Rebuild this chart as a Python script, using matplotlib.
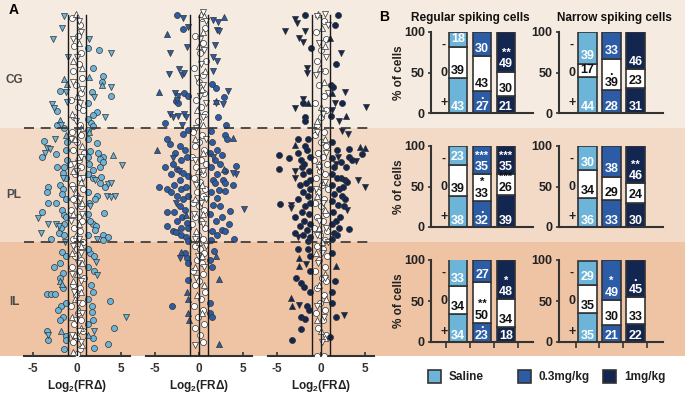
import matplotlib
matplotlib.use('Agg')
import matplotlib.pyplot as plt
from matplotlib.patches import Rectangle

plt.rcParams['font.family'] = ['Liberation Sans', 'DejaVu Sans']
plt.rcParams['font.weight'] = 'bold'
plt.rcParams['axes.titleweight'] = 'bold'
plt.rcParams['axes.labelweight'] = 'bold'

W, H = 685, 395

# ---- data -------------------------------------------------------------
regions = ['CG', 'PL', 'IL']
region_bounds = [0, 36, 68, 100]          # depth (% of scatter height)
doses = ['Saline', '0.3mg/kg', '1mg/kg']
dose_colors = ['#6db4d9', '#2d5ca6', '#13264f']
band_colors = ['#f6ebe1', '#f3dac7', '#eec4a5']

# scatter: (log2 FR change, depth)
sal_o = [(1.29, 13.6), (2.5, 14), (1.78, 19.2), (3.0, 21.3), (2.8, 22.9), (-1.93, 25.6), (1.67, 25.9),
         (3.83, 26.9), (1.29, 28.8), (-2.24, 31.2), (2.3, 31.5), (1.85, 32.3), (1.3, 33.5), (1.6, 34.5),
         (1.8, 35.5), (1.2, 36.5), (-2.3, 35), (-1.5, 36), (-3.75, 39.6), (-1.17, 40), (-4.0, 44),
         (-2.4, 43.3), (2.24, 40.3), (1.48, 42.4), (2.4, 43), (3.0, 44), (2.6, 44.7), (3.0, 45.4),
         (-2.3, 46.8), (-1.17, 45), (2.6, 46.8), (1.85, 47.8), (-1.5, 47), (-1.6, 48.5), (2.73, 49.6),
         (1.85, 50), (1.3, 39), (1.2, 44), (1.4, 46), (-1.3, 42), (-1.2, 50), (1.2, 49), (-3.26, 52.4),
         (-3.44, 53.8), (-1.9, 52), (-1.6, 53), (-1.7, 54.5), (2.6, 51.5), (3.2, 52.5), (2.3, 55),
         (2.0, 56), (-3.26, 57), (-2.4, 57), (-4.0, 59.6), (-1.7, 59), (-1.5, 60.5), (3.1, 59.7),
         (-1.5, 63), (-1.8, 64), (-2.0, 65.5), (-1.5, 66), (1.8, 63), (2.2, 63.5), (2.0, 64.5),
         (3.0, 66), (3.5, 66.5), (3.0, 67.3), (-2.9, 67.2), (1.3, 54), (1.4, 57), (1.2, 60), (1.5, 62),
         (-1.3, 56), (-1.2, 61), (1.3, 66), (-1.74, 70.7), (-1.93, 73.8), (-2.6, 75), (-1.55, 76.7),
         (1.5, 71), (1.9, 72), (1.93, 76), (-1.9, 78), (1.6, 80), (1.8, 82), (-3.4, 82.6), (-2.9, 82.6),
         (-2.5, 82.6), (-1.6, 81), (3.7, 84.5), (-1.85, 86), (-2.2, 87), (1.7, 86), (1.7, 87.5),
         (-1.6, 89), (-1.95, 90), (1.77, 90), (4.2, 92.2), (-3.44, 93), (-3.3, 95.5), (-1.3, 94.5),
         (-1.3, 95.5), (1.8, 95), (3.56, 96.7), (-1.5, 98), (1.9, 97.8), (1.2, 70), (1.3, 75),
         (-1.2, 72), (-1.3, 85), (1.2, 84), (1.3, 91)]
sal_up = [(1.36, 21.5), (-1.5, 22.2), (2.88, 23.9), (-1.17, 23.7), (-1.93, 33.7), (4.1, 43.5), (-1.9, 79),
          (-1.7, 79.8), (-1.8, 93), (1.4, 37), (-1.3, 38), (1.3, 94)]
sal_dn = [(-1.48, 4.4), (-1.74, 7.8), (-2.77, 11), (1.36, 11), (3.83, 14.8), (-1.06, 15.9), (3.83, 24.3),
          (-1.2, 25.8), (1.97, 27.3), (-1.17, 28.7), (-2.88, 29.3), (-2.6, 30.4), (3.18, 32.8),
          (-1.8, 35.2), (-2.5, 39.1), (-3.4, 41.5), (-3.07, 41.9), (-3.6, 43), (5.15, 46.4), (2.0, 50.5),
          (-1.6, 50), (3.5, 51.7), (3.9, 51.5), (3.4, 55), (3.9, 55.2), (4.3, 55), (-4.4, 61.3),
          (-3.26, 63), (-2.4, 63), (-2.0, 63.5), (-4.1, 65.4), (2.3, 67), (2.16, 73.5), (2.3, 77.2),
          (5.57, 89.1), (1.93, 93), (-3.3, 94), (1.5, 58), (-1.4, 68)]
sal_w_o = [(-0.6, 5), (0.3, 7), (0.1, 10), (-0.3, 13), (0.5, 15), (0.2, 18), (-0.5, 20), (0.6, 22),
           (-0.1, 24), (0.4, 26), (-0.7, 28), (0.1, 30), (0.7, 31), (-0.3, 33), (0.3, 35), (-0.6, 37),
           (0.5, 38), (0.0, 40), (-0.4, 42), (0.8, 43), (0.2, 45), (-0.8, 46), (0.5, 47), (-0.2, 49),
           (0.3, 50), (-0.6, 52), (0.7, 53), (0.0, 55), (-0.4, 56), (0.4, 58), (-0.7, 59), (0.1, 61),
           (0.6, 62), (-0.3, 64), (0.3, 65), (-0.5, 67), (0.7, 68), (0.0, 70), (-0.2, 72), (0.5, 73),
           (-0.6, 75), (0.2, 76), (0.8, 78), (-0.4, 80), (0.3, 81), (-0.1, 83), (0.6, 85), (-0.7, 86),
           (0.1, 88), (0.4, 90), (-0.3, 91), (0.7, 93), (0.0, 95), (-0.5, 96), (0.3, 98), (0.0, 99.5)]
sal_w_up = [(-0.1, 4), (0.2, 12), (-0.5, 17), (0.6, 19), (0.0, 27), (-0.6, 32), (0.4, 36), (-0.2, 39),
            (0.6, 41), (0.1, 44), (-0.5, 48), (0.4, 51), (-0.1, 54), (0.6, 57), (-0.5, 60), (0.2, 63),
            (-0.1, 66), (0.4, 69), (-0.6, 71), (0.6, 74), (0.0, 77), (-0.5, 79), (0.5, 82), (-0.2, 84),
            (0.2, 87), (-0.6, 89), (0.5, 92), (-0.2, 94), (0.6, 97), (-0.4, 99)]
sal_w_dn = [(0.2, 6), (0.5, 9), (-0.4, 11), (0.0, 16), (0.6, 25), (-0.4, 23), (0.3, 29), (-0.1, 34),
            (0.1, 37), (-0.7, 39), (0.5, 44), (-0.3, 46), (0.0, 48), (0.7, 50), (-0.4, 53), (0.3, 56),
            (-0.1, 58), (0.6, 60), (-0.7, 62), (0.2, 67), (-0.4, 69), (0.5, 71), (0.1, 74), (-0.6, 77),
            (0.4, 79), (-0.3, 82), (0.1, 85), (0.6, 88), (-0.1, 90), (0.2, 93), (-0.6, 94), (0.4, 96)]

low_o = [(-2.46, 4.2), (-1.85, 8.1), (1.5, 23.5), (1.9, 24.7), (2.84, 27.2), (-1.7, 26), (-1.3, 27),
         (-2.6, 28.5), (-2.4, 29), (-3.86, 34.6), (2.2, 33), (3.1, 35), (-3.6, 39), (-3.3, 40.5),
         (2.9, 38), (3.2, 39), (4.2, 46.5), (-3.9, 47), (-2.2, 41), (-1.6, 42), (-2.7, 43), (-1.4, 44),
         (-2.0, 45), (-3.0, 46), (-2.5, 47.5), (-1.8, 48.5), (-1.3, 49.5), (-2.2, 50.5), (-3.2, 49),
         (1.5, 40), (2.0, 42), (1.3, 43), (2.6, 43.5), (1.8, 45), (2.4, 46), (1.4, 47), (3.0, 48),
         (2.1, 49), (1.6, 50.5), (2.7, 50.5), (-4.5, 52.6), (-3.6, 53), (-3.2, 54), (-2.8, 52),
         (-2.1, 53), (-1.5, 52.5), (-2.5, 55), (-1.8, 56), (-1.3, 55), (-3.6, 59.5), (-2.8, 59.5),
         (-2.2, 58), (-1.6, 59), (-1.9, 61), (-2.5, 62), (-1.4, 62.5), (-3.67, 63.5), (-3.0, 65),
         (-2.6, 65.3), (-2.0, 66), (-1.5, 66.5), (-1.2, 64), (1.8, 51.5), (3.0, 51.5), (3.9, 52),
         (2.3, 53.5), (3.0, 53.7), (1.4, 54), (2.0, 55.5), (1.6, 57.5), (2.4, 58), (3.5, 59.2),
         (1.3, 60), (2.6, 61), (3.4, 63), (1.9, 62), (2.1, 66), (4.0, 67.2), (2.6, 64.5), (3.0, 65),
         (1.5, 65), (1.4, 67.5), (-1.3, 67.7), (-1.6, 71), (-1.4, 72.5), (-1.2, 74), (1.7, 70.5),
         (1.2, 73), (1.5, 75), (-1.2, 78.7), (1.3, 85), (-3.1, 86), (1.2, 88), (1.5, 89), (-1.3, 36.5),
         (-1.8, 37.5), (1.4, 36.8), (-2.1, 64)]
low_up = [(-3.67, 9.6), (2.88, 4.7), (-4.6, 25.9), (1.9, 28.5), (-4.8, 42), (3.9, 38.9), (-2.1, 70.7),
          (1.9, 72), (2.3, 78.5), (-1.4, 82), (-1.2, 84), (-1.3, 88), (-1.1, 90), (2.27, 96.6),
          (-1.5, 60.5), (2.8, 47.6)]
low_dn = [(-1.78, 5), (-1.2, 7.5), (1.56, 5.6), (2.2, 6.1), (2.1, 8.3), (2.3, 8.7), (1.82, 12.6),
          (-1.4, 13.1), (-3.3, 15), (1.6, 16), (2.1, 17), (-3.37, 20.9), (-2.3, 19.5), (-1.9, 21),
          (-1.7, 20.5), (1.6, 20), (3.33, 25.6), (-2.7, 26), (-2.4, 27), (-2.5, 28), (1.9, 29),
          (2.7, 29.2), (-3.3, 32), (-2.9, 33), (-2.4, 32.6), (-1.7, 32), (-1.5, 33), (-1.9, 35),
          (4.2, 49), (3.9, 48.7), (-2.6, 57), (5.1, 58.8), (-2.2, 72.5), (-3.0, 44.5), (1.6, 44),
          (-2.3, 48)]
low_w_o = [(0.3, 5), (0.7, 8), (-0.4, 10), (0.5, 12), (0.1, 15), (0.8, 17), (-0.6, 19), (0.4, 21),
           (0.0, 23), (0.6, 26), (-0.3, 28), (0.2, 30), (0.7, 32), (-0.1, 34), (-0.7, 37), (0.3, 38),
           (0.0, 40), (-0.4, 41), (0.6, 42), (-0.8, 44), (0.2, 45), (0.8, 46), (-0.3, 47), (0.4, 49),
           (-0.6, 50), (0.1, 51), (0.7, 53), (-0.2, 54), (0.4, 55), (-0.7, 57), (0.0, 58), (0.6, 59),
           (-0.4, 61), (0.2, 62), (-0.8, 63), (0.7, 64), (-0.1, 66), (0.4, 67), (-0.5, 69), (0.1, 70),
           (0.6, 71), (-0.2, 73), (0.3, 74), (-0.7, 76), (0.5, 77), (0.0, 79), (-0.4, 80), (0.7, 82),
           (0.2, 84), (-0.6, 86), (0.4, 87), (-0.1, 89), (0.6, 91), (-0.5, 92), (0.1, 94), (0.4, 96)]
low_w_up = [(0.2, 4), (0.6, 4.5), (0.4, 9), (0.0, 13), (0.7, 20), (0.3, 25), (-0.2, 31), (0.5, 35),
            (-0.5, 39), (0.5, 43), (-0.1, 48), (0.3, 52), (-0.5, 56), (0.5, 60), (-0.3, 65), (0.0, 68),
            (0.3, 72), (-0.4, 75), (0.6, 80), (-0.2, 83), (0.3, 88)]
low_w_dn = [(0.4, 3.5), (0.8, 6), (0.1, 11), (0.6, 14), (0.2, 18), (-0.2, 22), (0.5, 24), (0.1, 27),
            (0.8, 29), (0.4, 33), (-0.3, 36), (0.8, 39), (-0.5, 45), (0.5, 48), (-0.3, 52), (0.8, 56),
            (0.2, 57), (-0.6, 60), (0.5, 63), (-0.4, 67), (0.8, 69), (-0.1, 72), (0.6, 75), (-0.3, 78),
            (-0.4, 97)]

high_o = [(-1.78, 4.2), (1.93, 4.2), (1.55, 7), (-1.1, 13.6), (1.7, 18), (1.1, 24), (1.4, 24.5),
          (2.4, 28.8), (-2.1, 28.8), (-1.85, 33), (-1.85, 34), (1.1, 32.6), (-2.6, 39), (-1.5, 39),
          (-1.8, 41), (-1.6, 42), (-4.8, 43.5), (-3.67, 44.5), (-4.8, 47.5), (-2.6, 43), (-2.3, 45),
          (-2.2, 47), (3.2, 41.8), (4.66, 43.3), (3.2, 44), (3.5, 45), (2.3, 45.5), (2.8, 47), (2.3, 50),
          (2.7, 50.5), (3.0, 51), (-1.3, 44), (-1.9, 46), (-1.4, 48), (-2.0, 49), (-1.3, 50.5),
          (-1.7, 51.5), (-2.4, 52), (-1.2, 53), (-2.0, 54), (-1.5, 55), (-2.6, 56), (-1.3, 57),
          (-1.8, 58), (-2.2, 59.5), (-1.4, 60), (-1.9, 62), (-1.3, 63), (-2.4, 63.5), (-1.6, 64.5),
          (-2.0, 66), (-1.3, 66.5), (-1.5, 67.7), (-2.9, 61), (-2.9, 65.5), (-4.7, 57.3), (1.3, 40),
          (1.8, 42), (1.2, 44.5), (1.5, 47), (1.2, 49), (1.8, 50), (1.3, 52), (2.0, 53), (1.5, 54.5),
          (2.4, 55), (1.2, 56.5), (1.9, 57.5), (2.6, 58), (1.4, 59.5), (2.2, 61), (1.7, 62), (1.2, 63),
          (2.0, 64), (3.2, 64.4), (1.5, 65.5), (1.2, 67), (2.5, 52.5), (2.7, 56), (1.8, 66), (-2.8, 78),
          (1.6, 78.8), (-2.3, 79.5), (-1.9, 80.5), (-1.6, 86), (-1.4, 87), (1.66, 89), (-2.3, 89),
          (-1.8, 89.5), (-2.3, 92.4), (-3.3, 95.5), (1.0, 94.8), (-1.5, 70), (-1.3, 72), (1.2, 71),
          (-1.2, 76), (-1.2, 82), (1.3, 82), (-2.6, 70), (1.2, 85)]
high_up = [(1.06, 10.8), (2.84, 32.5), (-2.9, 40.7), (4.4, 41.2), (5.0, 41.5), (-2.5, 72.5), (-2.5, 74.7),
           (1.7, 74.7), (-3.4, 83.8), (-3.3, 86), (1.3, 26), (-1.5, 29)]
high_dn = [(-2.9, 5.3), (-2.7, 6.5), (-4.05, 8.7), (-1.85, 8.7), (-2.5, 10.8), (-2.1, 11.7), (2.3, 14.8),
           (-1.6, 19), (-1.6, 20.5), (2.76, 25.8), (-2.0, 27.7), (1.6, 28.8), (5.1, 30), (-2.9, 30.4),
           (1.3, 31), (2.0, 34), (2.4, 36.8), (3.1, 37.5), (4.0, 45.2), (1.9, 44), (1.7, 46), (-2.9, 48),
           (-2.9, 50), (4.2, 50.6), (-3.4, 57.5), (-3.4, 58.5), (-2.6, 66.5), (5.0, 52.4), (3.0, 59),
           (-1.7, 74.2), (-2.5, 85.6), (2.6, 88.5)]
high_w_o = [(0.3, 6), (-0.6, 9), (0.6, 11), (0.0, 14), (-0.4, 17), (0.5, 20), (-0.2, 24), (0.3, 27),
            (-0.7, 29), (0.6, 31), (0.0, 33), (-0.4, 35), (0.3, 37), (-0.7, 38), (0.0, 40), (0.6, 41),
            (-0.3, 43), (0.2, 44), (-0.8, 45), (0.7, 46), (-0.1, 48), (0.4, 49), (-0.6, 50), (0.1, 52),
            (0.8, 53), (-0.3, 54), (0.3, 56), (-0.7, 57), (0.0, 58), (0.6, 60), (-0.4, 61), (0.2, 62),
            (-0.8, 64), (0.7, 65), (-0.1, 66), (0.4, 67.5), (-0.5, 69), (0.2, 70), (0.7, 72), (-0.2, 73),
            (0.4, 75), (-0.7, 76), (0.1, 78), (0.6, 79), (-0.4, 81), (0.3, 83), (-0.1, 85), (0.5, 87),
            (-0.6, 88), (0.2, 90), (-0.3, 92), (0.6, 94), (-0.45, 100), (0.3, 100)]
high_w_up = [(-0.3, 4), (0.1, 8), (0.4, 13), (-0.1, 19), (0.3, 23), (0.0, 30), (-0.5, 34), (0.5, 39),
             (-0.2, 46), (0.3, 51), (-0.5, 55), (0.5, 59), (-0.2, 64), (0.1, 68), (-0.6, 71), (0.4, 77),
             (-0.2, 80), (0.6, 84), (-0.5, 90), (0.0, 93), (0.4, 95)]
high_w_dn = [(-0.5, 4.5), (0.5, 4), (0.8, 7), (-0.2, 12), (0.6, 16), (-0.6, 21), (0.8, 26), (0.2, 32),
             (-0.5, 37), (0.6, 43), (-0.2, 47), (0.5, 51), (-0.6, 53), (0.2, 57), (-0.2, 62), (0.6, 64),
             (-0.4, 66), (0.8, 68), (0.1, 71), (-0.3, 74), (0.5, 78), (-0.4, 86), (0.3, 89), (0.1, 96)]

# stacked bars: % of cells increased (+), unchanged (0), decreased (-); rows CG, PL, IL
rs_plus = [[43, 27, 21], [38, 32, 39], [34, 23, 18]]
rs_zero = [[39, 43, 30], [39, 33, 26], [34, 50, 34]]
rs_minus = [[18, 30, 49], [23, 35, 35], [33, 27, 48]]
ns_plus = [[44, 28, 31], [36, 33, 30], [35, 21, 22]]
ns_zero = [[17, 39, 23], [34, 29, 24], [35, 30, 33]]
ns_minus = [[39, 33, 46], [30, 38, 46], [29, 49, 45]]
rs_sig_plus = [['', '·', '*'], ['', '·', ''], ['', '·', '*']]
rs_sig_zero = [['', '', ''], ['', '*', '***'], ['', '**', '']]
rs_sig_minus = [['', '', '**'], ['', '***', '***'], ['', '', '*']]
ns_sig_plus = [['', '', ''], ['', '', ''], ['', '', '']]
ns_sig_zero = [['', '·', ''], ['', '', ''], ['', '', '']]
ns_sig_minus = [['', '', ''], ['', '', '**'], ['', '*', '·']]


def box(l, t, w, h):
    return [l / W, 1 - (t + h) / H, w / W, h / H]


SCAT_BOTTOM = 356
fig = plt.figure(figsize=(W / 100, H / 100), dpi=100)

# background bands, labels, legend
bg = fig.add_axes([0, 0, 1, 1], zorder=-5)
bg.set_xlim(0, W)
bg.set_ylim(H, 0)
bg.axis('off')
label_y = [80, 195, 302]
for i in range(3):
    y0 = region_bounds[i] * SCAT_BOTTOM / 100
    y1 = region_bounds[i + 1] * SCAT_BOTTOM / 100
    bg.axhspan(y0, y1, color=band_colors[i], lw=0)
    bg.text(14, label_y[i], regions[i], ha='center', va='center', fontsize=8.5, color='#4a4a4a',
            fontweight='bold')
bg.text(14, 10, 'A', ha='center', va='center', fontsize=10, fontweight='bold')
bg.text(384, 17, 'B', ha='center', va='center', fontsize=10, fontweight='bold')

leg_x = [428, 518, 603]
for lx, name, col in zip(leg_x, doses, dose_colors):
    bg.add_patch(Rectangle((lx, 370), 13, 13, facecolor=col, edgecolor='#333333', lw=1.2))
    bg.text(lx + 21, 377, name, ha='left', va='center', fontsize=8.5, color='#222222', fontweight='bold')

# ---- panel A: scatter ---------------------------------------------------
panels = [(sal_o, sal_up, sal_dn, sal_w_o, sal_w_up, sal_w_dn),
          (low_o, low_up, low_dn, low_w_o, low_w_up, low_w_dn),
          (high_o, high_up, high_dn, high_w_o, high_w_up, high_w_dn)]
zero_px = [77, 199, 321]
unit = 8.8


def cloud(ax, pts, marker, face):
    xs = [p[0] for p in pts]
    ds = [p[1] for p in pts]
    ax.scatter(xs, ds, s=19, marker=marker, c=face, edgecolors='#333333', linewidths=0.5, zorder=3)


for k, (zp, pan) in enumerate(zip(zero_px, panels)):
    ax = fig.add_axes(box(zp - 6 * unit, 0, 12 * unit, SCAT_BOTTOM))
    ax.patch.set_alpha(0)
    ax.set_xlim(-6, 6)
    ax.set_ylim(100, 0)
    col = dose_colors[k]
    cloud(ax, pan[3], 'o', 'white')
    cloud(ax, pan[4], '^', 'white')
    cloud(ax, pan[5], 'v', 'white')
    cloud(ax, pan[0], 'o', col)
    cloud(ax, pan[1], '^', col)
    cloud(ax, pan[2], 'v', col)
    for xv in (-1, 0, 1):
        ax.axvline(xv, ymin=0, ymax=0.958, color='#1a1a1a', lw=1.0, zorder=5)
    for s in ('top', 'right', 'left'):
        ax.spines[s].set_visible(False)
    ax.spines['bottom'].set_color('#333333')
    ax.spines['bottom'].set_linewidth(1.5)
    ax.set_yticks([])
    ax.set_xticks([-5, 0, 5])
    ax.set_xticklabels(['-5', '0', '5'], fontweight='bold')
    ax.tick_params(axis='x', direction='in', length=3, width=1.2, color='#333333',
                   labelsize=8.5, labelcolor='#333333', pad=5)
    ax.set_xlabel('Log$_\\mathregular{2}$(FRΔ)', fontsize=8.5, color='#222222', labelpad=2,
                  fontweight='bold')

# dashed region borders on top
ov = fig.add_axes([0, 0, 1, 1], zorder=20)
ov.set_xlim(0, W)
ov.set_ylim(H, 0)
ov.axis('off')
for b in region_bounds[1:3]:
    ov.hlines(b * SCAT_BOTTOM / 100, 24, 374, colors='#333333', lw=1.2, linestyles=(0, (6, 4)))

# ---- panel B: stacked bars ----------------------------------------------
rows_top = [32, 146, 260]
rows_h = [81, 81, 82]
cols = [(431, 102, (-0.12, 4.12), (rs_plus, rs_zero, rs_minus), (rs_sig_plus, rs_sig_zero, rs_sig_minus),
         'Regular spiking cells'),
        (559, 104, (-0.19, 4.15), (ns_plus, ns_zero, ns_minus), (ns_sig_plus, ns_sig_zero, ns_sig_minus),
         'Narrow spiking cells')]

for c, (left, width, xl, vals, sigs, title) in enumerate(cols):
    for r in range(3):
        ax = fig.add_axes(box(left, rows_top[r], width, rows_h[r]))
        ax.patch.set_alpha(0)
        ax.set_xlim(*xl)
        ax.set_ylim(0, 100)
        plus, zero, minus = vals[0][r], vals[1][r], vals[2][r]
        for d in range(3):
            x = d + 1
            col = dose_colors[d]
            segs = [(0, plus[d], col, 'white', sigs[0][r][d]),
                    (plus[d], zero[d], 'white', '#111111', sigs[1][r][d]),
                    (plus[d] + zero[d], minus[d], col, 'white', sigs[2][r][d])]
            for j, (b0, hgt, fc, tc, sg) in enumerate(segs):
                ax.bar(x, hgt, bottom=b0, width=0.78, color=fc, edgecolor='#333333', lw=1.2, zorder=2)
                ty = b0 + (7 if j == 0 else 9)
                ax.text(x, ty, str(hgt), ha='center', va='center', fontsize=9, color=tc, zorder=4,
                        fontweight='bold')
                if sg:
                    if sg == '·':
                        ax.text(x, ty + 10, sg, ha='center', va='center', fontsize=9, color=tc,
                                zorder=4, fontweight='bold')
                    else:
                        ax.text(x, ty + 8, sg, ha='center', va='bottom', fontsize=8, color=tc,
                                zorder=4, fontweight='bold', linespacing=0.8)
        for lab, yy in (('-', 84), ('0', 50), ('+', 12)):
            ax.text(0.42 if c == 0 else 0.35, yy, lab, ha='center', va='center', fontsize=9,
                    color='#222222', fontweight='bold')
        for s in ('top', 'right'):
            ax.spines[s].set_visible(False)
        for s in ('left', 'bottom'):
            ax.spines[s].set_color('#333333')
            ax.spines[s].set_linewidth(1.5)
        ax.set_yticks([0, 50, 100])
        ax.set_yticklabels(['0', '50', '100'], fontweight='bold')
        ax.tick_params(axis='y', direction='out', length=2.5, width=1.2, color='#333333',
                       labelsize=9, labelcolor='#222222', pad=2)
        if r == 2:
            ax.set_xticks([0.5, 1.5, 2.5, 3.5])
            ax.set_xticklabels([])
            ax.tick_params(axis='x', direction='out', length=4, width=1.2, color='#333333')
        else:
            ax.set_xticks([])
        if c == 0:
            ax.set_ylabel('% of cells', fontsize=8.5, color='#222222', labelpad=-1, fontweight='bold')
        if r == 0:
            ax.set_title(title, fontsize=8.5, color='#111111', pad=8, x=0.39 if c == 0 else 0.53,
                         fontweight='bold')

fig.savefig('out.png', dpi=100)
